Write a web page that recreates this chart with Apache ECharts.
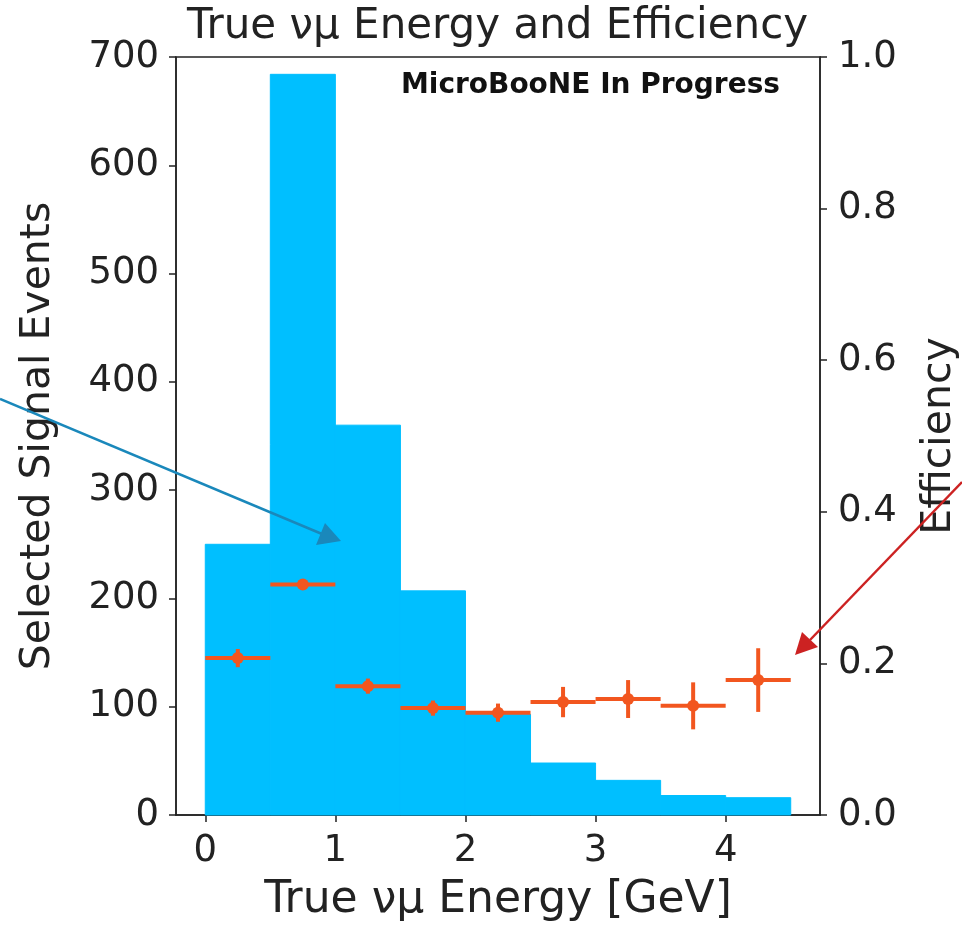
<!DOCTYPE html>
<html>
<head>
<meta charset="utf-8">
<script src="https://cdn.jsdelivr.net/npm/echarts@6/dist/echarts.min.js"></script>
<style>
  html, body { margin: 0; padding: 0; background: #fff; }
  #chart { width: 962px; height: 925px; }
</style>
</head>
<body>
<div id="chart"></div>
<script>
// bin edges (GeV) and selected signal events per bin
const binEdges = [0, 0.5, 1, 1.5, 2, 2.5, 3, 3.5, 4, 4.5];
const selectedEvents = [250, 684, 360, 207, 93, 48, 32, 18, 16];
// efficiency per bin and its error
const efficiency = [0.207, 0.304, 0.170, 0.141, 0.135, 0.149, 0.153, 0.144, 0.178];
const efficiencyErr = [0.012, 0.006, 0.010, 0.010, 0.012, 0.020, 0.025, 0.031, 0.042];
const xTicks = [0, 1, 2, 3, 4];

const font = 'DejaVu Sans';
const axisColor = '#222';
const errColor = '#f2561f';

const histData = selectedEvents.map((v, i) => [binEdges[i], binEdges[i + 1], v]);
const effData = efficiency.map((v, i) => [(binEdges[i] + binEdges[i + 1]) / 2, v, efficiencyErr[i], (binEdges[i + 1] - binEdges[i]) / 2]);

const chart = echarts.init(document.getElementById('chart'));
chart.setOption({
  animation: false,
  title: [
    {
      text: 'True νμ Energy and Efficiency',
      left: 182,
      top: 1,
      textStyle: { fontFamily: font, fontSize: 42, fontWeight: 'normal', color: '#222' }
    },
    {
      text: 'MicroBooNE In Progress',
      right: 177,
      top: 67,
      textStyle: { fontFamily: font, fontSize: 28, fontWeight: 'bold', color: '#111' }
    }
  ],
  grid: {
    left: 176, right: 142, top: 57, bottom: 110,
    outerBoundsMode: 'none',
    show: true, borderColor: axisColor, borderWidth: 1.5
  },
  xAxis: {
    type: 'value',
    min: -0.225, max: 4.725,
    name: 'True νμ Energy [GeV]',
    nameLocation: 'middle',
    nameGap: 64,
    nameTextStyle: { fontFamily: font, fontSize: 44, color: '#222' },
    axisLine: { show: true, onZero: false, lineStyle: { color: axisColor, width: 1.5 } },
    axisTick: { show: true, length: 7, customValues: xTicks, lineStyle: { color: axisColor, width: 1.5 } },
    axisLabel: { customValues: xTicks, fontFamily: font, fontSize: 37, color: '#222', margin: 18 },
    splitLine: { show: false }
  },
  yAxis: [
    {
      type: 'value',
      min: 0, max: 700, interval: 100,
      name: 'Selected Signal Events',
      nameLocation: 'middle',
      nameGap: 117,
      nameTextStyle: { fontFamily: font, fontSize: 41, color: '#222' },
      axisLine: { show: true, onZero: false, lineStyle: { color: axisColor, width: 1.5 } },
      axisTick: { show: true, length: 7, lineStyle: { color: axisColor, width: 1.5 } },
      axisLabel: { fontFamily: font, fontSize: 37, color: '#222', margin: 17 },
      splitLine: { show: false }
    },
    {
      type: 'value',
      min: 0, max: 1, interval: 0.2,
      name: 'Efficiency',
      nameLocation: 'middle',
      nameGap: 99,
      nameTextStyle: { fontFamily: font, fontSize: 41, color: '#222' },
      axisLine: { show: true, onZero: false, lineStyle: { color: axisColor, width: 1.5 } },
      axisTick: { show: true, length: 7, lineStyle: { color: axisColor, width: 1.5 } },
      axisLabel: { fontFamily: font, fontSize: 37, color: '#222', margin: 18, formatter: v => v.toFixed(1) },
      splitLine: { show: false }
    }
  ],
  series: [
    {
      type: 'custom',
      yAxisIndex: 0,
      data: histData,
      renderItem: (params, api) => {
        const p0 = api.coord([api.value(0), api.value(2)]);
        const p1 = api.coord([api.value(1), 0]);
        return {
          type: 'rect',
          shape: { x: p0[0], y: p0[1], width: p1[0] - p0[0], height: p1[1] - p0[1] },
          style: { fill: '#00bfff', stroke: '#00bfff', lineWidth: 1 }
        };
      }
    },
    {
      type: 'custom',
      yAxisIndex: 1,
      data: effData,
      z: 5,
      renderItem: (params, api) => {
        const x = api.value(0), y = api.value(1), e = api.value(2), hw = api.value(3);
        const c = api.coord([x, y]);
        const l = api.coord([x - hw, y]);
        const r = api.coord([x + hw, y]);
        const t = api.coord([x, y + e]);
        const b = api.coord([x, y - e]);
        const stroke = { stroke: errColor, lineWidth: 4 };
        return {
          type: 'group',
          children: [
            { type: 'line', shape: { x1: l[0], y1: l[1], x2: r[0], y2: r[1] }, style: stroke },
            { type: 'line', shape: { x1: t[0], y1: t[1], x2: b[0], y2: b[1] }, style: stroke },
            { type: 'circle', shape: { cx: c[0], cy: c[1], r: 6 }, style: { fill: errColor } }
          ]
        };
      }
    }
  ],
  // annotation arrows pointing at the two series
  graphic: [
    { type: 'line', shape: { x1: 0, y1: 399, x2: 322, y2: 534 }, style: { stroke: '#1a88bb', lineWidth: 2.5 }, z: 100 },
    { type: 'polygon', shape: { points: [[341, 541], [316, 545], [325, 523]] }, style: { fill: '#1a88bb' }, z: 100 },
    { type: 'line', shape: { x1: 962, y1: 482, x2: 810, y2: 640 }, style: { stroke: '#cc2222', lineWidth: 2.5 }, z: 100 },
    { type: 'polygon', shape: { points: [[795, 655], [802, 632], [818, 647]] }, style: { fill: '#cc2222' }, z: 100 }
  ]
});
</script>
</body>
</html>
